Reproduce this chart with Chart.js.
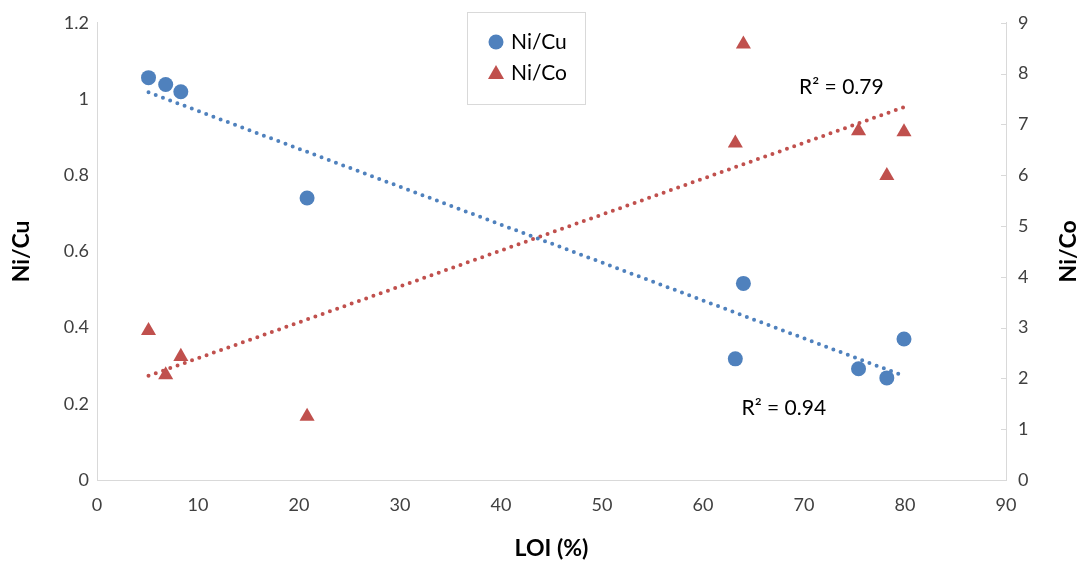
<!DOCTYPE html>
<html>
<head>
<meta charset="utf-8">
<script src="https://cdn.jsdelivr.net/npm/chart.js@4"></script>
<style>
  html, body { margin: 0; padding: 0; background: #fff; }
</style>
</head>
<body>
<canvas id="chart" width="1083" height="567"></canvas>
<script>
// values
const loi = [5.1, 6.8, 8.3, 20.8, 63.2, 64.0, 75.4, 78.2, 79.9];
const niCu = [1.056, 1.038, 1.019, 0.740, 0.318, 0.516, 0.292, 0.268, 0.370];
const niCo = [2.94, 2.07, 2.43, 1.25, 6.63, 8.58, 6.87, 5.99, 6.85];
const seriesNames = ['Ni/Cu', 'Ni/Co'];
const r2Labels = ['R\u00B2 = 0.94', 'R\u00B2 = 0.79'];

const blue = '#4F81BD';
const red = '#C0504D';
const axisGrey = '#D9D9D9';
const tickColor = '#404040';

Chart.defaults.font.family = 'Lato';

// least-squares line over the data range (Excel linear trendline)
function trend(xs, ys) {
    const n = xs.length;
    const mx = xs.reduce((a, b) => a + b, 0) / n;
    const my = ys.reduce((a, b) => a + b, 0) / n;
    let sxy = 0, sxx = 0;
    for (let i = 0; i < n; i++) {
        sxy += (xs[i] - mx) * (ys[i] - my);
        sxx += (xs[i] - mx) * (xs[i] - mx);
    }
    const b = sxy / sxx;
    const a = my - b * mx;
    const x0 = Math.min(...xs), x1 = Math.max(...xs);
    return [{ x: x0, y: a + b * x0 }, { x: x1, y: a + b * x1 }];
}

const toPoints = (xs, ys) => xs.map((x, i) => ({ x: x, y: ys[i] }));

const extras = {
    id: 'extras',
    afterDraw(chart) {
        const ctx = chart.ctx;
        const area = chart.chartArea;
        const xs = chart.scales.x, yL = chart.scales.y, yR = chart.scales.y1;
        ctx.save();

        // inward tick marks on the right axis
        ctx.strokeStyle = axisGrey;
        ctx.lineWidth = 1;
        yR.ticks.forEach(t => {
            const py = Math.round(yR.getPixelForValue(t.value)) + 0.5;
            ctx.beginPath();
            ctx.moveTo(area.right - 5, py);
            ctx.lineTo(area.right, py);
            ctx.stroke();
        });

        // right axis title, reading bottom to top
        ctx.fillStyle = '#000';
        ctx.font = 'bold 23px Lato';
        ctx.textAlign = 'center';
        ctx.textBaseline = 'middle';
        ctx.translate(1069, (area.top + area.bottom) / 2);
        ctx.rotate(-Math.PI / 2);
        ctx.fillText('Ni/Co', 0, 0);
        ctx.setTransform(1, 0, 0, 1, 0, 0);

        // R² labels
        ctx.font = '21px Lato';
        ctx.fillStyle = '#000';
        ctx.fillText(r2Labels[0], xs.getPixelForValue(68.0), yL.getPixelForValue(0.188));
        ctx.fillText(r2Labels[1], xs.getPixelForValue(73.7), yR.getPixelForValue(7.73));

        // legend box
        ctx.fillStyle = '#fff';
        ctx.fillRect(467, 12, 118, 92);
        ctx.strokeStyle = axisGrey;
        ctx.strokeRect(467.5, 12.5, 118, 92);

        ctx.textAlign = 'left';
        ctx.fillStyle = blue;
        ctx.beginPath();
        ctx.arc(496, 42, 7.5, 0, Math.PI * 2);
        ctx.fill();
        ctx.fillStyle = red;
        ctx.beginPath();
        ctx.moveTo(496, 65);
        ctx.lineTo(504, 79);
        ctx.lineTo(488, 79);
        ctx.closePath();
        ctx.fill();
        ctx.fillStyle = '#000';
        ctx.fillText(seriesNames[0], 511, 42);
        ctx.fillText(seriesNames[1], 511, 73);
        ctx.restore();
    }
};

new Chart(document.getElementById('chart'), {
    type: 'scatter',
    data: {
        datasets: [
            {
                type: 'line', label: 'trend Ni/Cu', data: trend(loi, niCu), yAxisID: 'y',
                borderColor: blue, borderWidth: 4, borderDash: [0, 7.7], borderCapStyle: 'round',
                pointRadius: 0, fill: false
            },
            {
                type: 'line', label: 'trend Ni/Co', data: trend(loi, niCo), yAxisID: 'y1',
                borderColor: red, borderWidth: 4, borderDash: [0, 7.7], borderCapStyle: 'round',
                pointRadius: 0, fill: false
            },
            {
                label: seriesNames[0], data: toPoints(loi, niCu), yAxisID: 'y',
                backgroundColor: blue, borderColor: blue, borderWidth: 0,
                pointStyle: 'circle', pointRadius: 7.5
            },
            {
                label: seriesNames[1], data: toPoints(loi, niCo), yAxisID: 'y1',
                backgroundColor: red, borderColor: red, borderWidth: 0,
                pointStyle: 'triangle', pointRadius: 8.7
            }
        ]
    },
    options: {
        responsive: false,
        animation: false,
        layout: { padding: { top: 20, left: 0, right: 0, bottom: 0 } },
        plugins: {
            legend: { display: false },
            tooltip: { enabled: false }
        },
        scales: {
            x: {
                type: 'linear', min: 0, max: 90,
                ticks: { stepSize: 10, color: tickColor, font: { size: 18 }, padding: 14 },
                grid: { display: false, drawTicks: false },
                border: { display: true, color: axisGrey, width: 1 },
                title: { display: true, text: 'LOI (%)', color: '#000', font: { size: 23, weight: 'bold' }, padding: { top: 0, bottom: 5 } },
                afterFit: s => { s.height = 87; }
            },
            y: {
                position: 'left', min: 0, max: 1.2,
                ticks: { stepSize: 0.2, color: tickColor, font: { size: 18 }, padding: 8,
                         callback: v => String(+v.toFixed(1)) },
                grid: { display: false, drawTicks: false },
                border: { display: true, color: axisGrey, width: 1 },
                title: { display: true, text: 'Ni/Cu', color: '#000', font: { size: 23, weight: 'bold' }, padding: { top: 8, bottom: 0 } },
                afterFit: s => { s.width = 97; }
            },
            y1: {
                position: 'right', min: 0, max: 9,
                ticks: { stepSize: 1, color: tickColor, font: { size: 18 }, padding: 12 },
                grid: { display: false, drawTicks: false },
                border: { display: true, color: axisGrey, width: 1 },
                afterFit: s => { s.width = 77; }
            }
        }
    },
    plugins: [extras]
});
</script>
</body>
</html>
